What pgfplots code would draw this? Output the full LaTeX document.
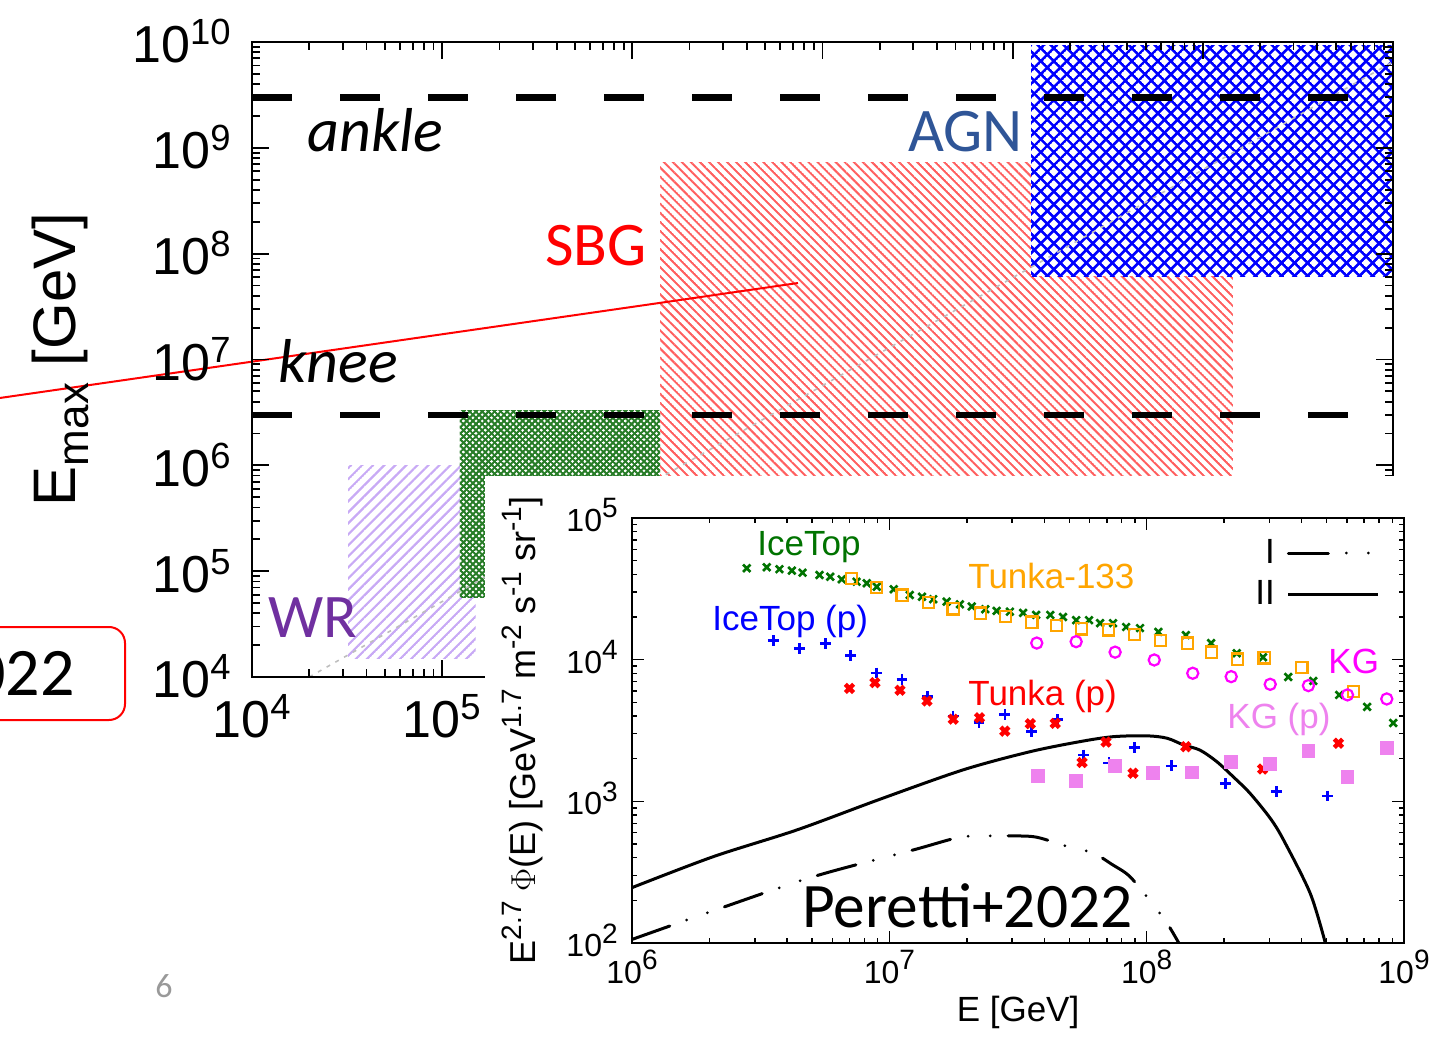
\documentclass[border=0pt]{standalone}
\usepackage{pgfplots}
\pgfplotsset{compat=1.18}
\usepackage{fontspec}
\setmainfont{Liberation Sans}
\newfontfamily\calibri{Carlito}
\usetikzlibrary{patterns.meta}

\definecolor{icegreen}{RGB}{0,115,0}
\definecolor{tunkaorange}{RGB}{255,165,0}
\definecolor{kgmag}{RGB}{255,0,255}
\definecolor{kgviolet}{RGB}{238,130,238}
\definecolor{agnblue}{RGB}{47,85,151}
\definecolor{wrpurple}{RGB}{112,48,160}
\definecolor{hatchpurple}{RGB}{200,170,245}
\definecolor{hatchred}{RGB}{255,95,95}
\definecolor{hatchgreen}{RGB}{40,125,40}
\definecolor{dotgray}{RGB}{190,190,190}

% parallel-line hatch with adjustable spacing, angle and width
\tikzdeclarepattern{
  name=hatch,
  parameters={
    \pgfkeysvalueof{/pgf/pattern keys/size},
    \pgfkeysvalueof{/pgf/pattern keys/angle},
    \pgfkeysvalueof{/pgf/pattern keys/line width},
  },
  bounding box={
    (0,-0.5*\pgfkeysvalueof{/pgf/pattern keys/line width}) and
    (\pgfkeysvalueof{/pgf/pattern keys/size},0.5*\pgfkeysvalueof{/pgf/pattern keys/line width})},
  tile size={(\pgfkeysvalueof{/pgf/pattern keys/size},\pgfkeysvalueof{/pgf/pattern keys/size})},
  tile transformation={rotate=\pgfkeysvalueof{/pgf/pattern keys/angle}},
  defaults={size/.initial=5pt, angle/.initial=45, line width/.initial=.4pt},
  code={\draw[line width=\pgfkeysvalueof{/pgf/pattern keys/line width}]
        (0,0) -- (\pgfkeysvalueof{/pgf/pattern keys/size},0);},
}

\newcommand\pa[1]{10\textsuperscript{#1}}
\newcommand\pb[1]{10\raisebox{6.8pt}{\fontsize{14}{14}\selectfont #1}}
\newcommand\su[1]{\raisebox{6.8pt}{\fontsize{14}{14}\selectfont #1}}

\begin{document}
\begin{tikzpicture}
\useasboundingbox (0,0) rectangle (717pt,-518.5pt);

% ---------------- E_max versus source size ----------------
\begin{axis}[
  at={(126pt,-338.5pt)}, anchor=south west,
  scale only axis, width=570.5pt, height=317.5pt,
  xmode=log, ymode=log, xmin=1e4, xmax=1e10, ymin=1e4, ymax=1e10,
  axis on top, clip=false,
  tick align=inside, major tick length=8.3pt, minor tick length=4pt,
  axis line style={line width=1pt}, tick style={line width=0.9pt, black},
  xtick={1e4,1e5,1e6,1e7,1e8,1e9,1e10},
  xticklabels={\pa{4},\pa{5},\pa{6},\pa{7},\pa{8},\pa{9},\pa{10}},
  ytick={1e4,1e5,1e6,1e7,1e8,1e9,1e10},
  yticklabels={\pa{4},\pa{5},\pa{6},\pa{7},\pa{8},\pa{9},\pa{10}},
  minor xtick={2e4,3e4,4e4,5e4,6e4,7e4,8e4,9e4,2e5,3e5,4e5,5e5,6e5,7e5,8e5,9e5,
    2e6,3e6,4e6,5e6,6e6,7e6,8e6,9e6,2e7,3e7,4e7,5e7,6e7,7e7,8e7,9e7,
    2e8,3e8,4e8,5e8,6e8,7e8,8e8,9e8,2e9,3e9,4e9,5e9,6e9,7e9,8e9,9e9},
  minor ytick={2e4,3e4,4e4,5e4,6e4,7e4,8e4,9e4,2e5,3e5,4e5,5e5,6e5,7e5,8e5,9e5,
    2e6,3e6,4e6,5e6,6e6,7e6,8e6,9e6,2e7,3e7,4e7,5e7,6e7,7e7,8e7,9e7,
    2e8,3e8,4e8,5e8,6e8,7e8,8e8,9e8,2e9,3e9,4e9,5e9,6e9,7e9,8e9,9e9},
  tick label style={font=\fontsize{26}{28}\selectfont},
  xticklabel style={anchor=base, yshift=-30.5pt, inner sep=0pt},
  yticklabel style={anchor=base east, xshift=-10pt, yshift=-10.5pt, inner sep=0pt},
  ylabel={E\raisebox{-6.5pt}{\fontsize{22}{22}\selectfont max} [GeV]},
  ylabel style={at={(axis description cs:-0.155,0.5)}, anchor=base,
                font=\fontsize{30}{32}\selectfont},
]
% WR
\addplot[draw=none, pattern={hatch[size=3.9pt,angle=45,line width=1.1pt]}, pattern color=hatchpurple]
  coordinates {(3.2e4,1.5e4) (1.5e5,1.5e4) (1.5e5,1e6) (3.2e4,1e6)};
% SNR (green)
\addplot[draw=none, fill=white] coordinates {(1.24e5,5.7e4) (1.4e6,5.7e4) (1.4e6,3.3e6) (1.24e5,3.3e6)};
\addplot[draw=none, pattern={hatch[size=2.2pt,angle=45,line width=1pt]}, pattern color=hatchgreen]
  coordinates {(1.24e5,5.7e4) (1.4e6,5.7e4) (1.4e6,3.3e6) (1.24e5,3.3e6)};
\addplot[draw=none, pattern={hatch[size=2.2pt,angle=-45,line width=1pt]}, pattern color=hatchgreen]
  coordinates {(1.24e5,5.7e4) (1.4e6,5.7e4) (1.4e6,3.3e6) (1.24e5,3.3e6)};
% SBG
\addplot[draw=none, pattern={hatch[size=3.2pt,angle=-45,line width=1pt]}, pattern color=hatchred]
  coordinates {(1.4e6,1e5) (1.44e9,1e5) (1.44e9,7.2e8) (1.4e6,7.2e8)};
% AGN
\addplot[draw=none, fill=white] coordinates {(1.25e8,6.15e7) (1e10,6.15e7) (1e10,9.3e9) (1.25e8,9.3e9)};
\addplot[draw=none, pattern={hatch[size=4.6pt,angle=45,line width=1.3pt]}, pattern color=blue]
  coordinates {(1.25e8,6.15e7) (1e10,6.15e7) (1e10,9.3e9) (1.25e8,9.3e9)};
\addplot[draw=none, pattern={hatch[size=4.6pt,angle=-45,line width=1.3pt]}, pattern color=blue]
  coordinates {(1.25e8,6.15e7) (1e10,6.15e7) (1e10,9.3e9) (1.25e8,9.3e9)};
% Hillas-like diagonal
\addplot[dotgray, line width=0.8pt, dash pattern=on 2pt off 3pt] coordinates {(2e4,1e4) (1e10,6.5e9)};
% knee and ankle
\addplot[black, line width=3.3pt, dash pattern=on 20pt off 24pt] coordinates {(1e4,3e9) (5.8e9,3e9)};
\addplot[black, line width=3.3pt, dash pattern=on 20pt off 24pt] coordinates {(1e4,3e6) (5.8e9,3e6)};
% pointer
\addplot[red, line width=1pt] coordinates {(473,4.33e6) (7.43e6,5.28e7)};
\end{axis}

% panel behind the spectrum
\fill[white] (242.5pt,-238pt) rectangle (717pt,-518.5pt);

% ---------------- all-particle and proton spectra ----------------
\begin{axis}[
  at={(316pt,-471.5pt)}, anchor=south west,
  scale only axis, width=386pt, height=212.5pt,
  xmode=log, ymode=log, xmin=1e6, xmax=1e9, ymin=1e2, ymax=1e5,
  tick align=inside, major tick length=6pt, minor tick length=2.5pt,
  axis line style={line width=0.75pt}, tick style={line width=0.7pt, black},
  xtick={1e6,1e7,1e8,1e9}, xticklabels={\pb{6},\pb{7},\pb{8},\pb{9}},
  ytick={1e2,1e3,1e4,1e5}, yticklabels={\pb{2},\pb{3},\pb{4},\pb{5}},
  minor xtick={2e6,3e6,4e6,5e6,6e6,7e6,8e6,9e6,2e7,3e7,4e7,5e7,6e7,7e7,8e7,9e7,
    2e8,3e8,4e8,5e8,6e8,7e8,8e8,9e8},
  minor ytick={2e2,3e2,4e2,5e2,6e2,7e2,8e2,9e2,2e3,3e3,4e3,5e3,6e3,7e3,8e3,9e3,
    2e4,3e4,4e4,5e4,6e4,7e4,8e4,9e4},
  tick label style={font=\fontsize{16}{18}\selectfont},
  xticklabel style={anchor=base, yshift=-20pt, inner sep=0pt},
  yticklabel style={anchor=base east, xshift=-7pt, yshift=-6.8pt, inner sep=0pt},
  xlabel={E [GeV]},
  xlabel style={at={(axis description cs:0.5,-0.185)}, anchor=base, font=\fontsize{17.5}{20}\selectfont},
  ylabel={E\su{2.7} $\Phi$(E) [GeV\su{1.7} m\su{-2} s\su{-1} sr\su{-1}]},
  ylabel style={at={(axis description cs:-0.1256,0.5)}, anchor=base, font=\fontsize{18}{20}\selectfont},
  legend style={draw=none, fill=none, at={(axis description cs:0.977,0.969)}, anchor=north east,
                font=\fontsize{17.5}{20}\selectfont, row sep=3pt, column sep=4pt},
  legend plot pos=right, legend cell align=right,
  legend image code/.code={\draw[#1] (0pt,0pt) -- (45pt,0pt);},
]
% model I
\addplot[black, line width=1.5pt, line cap=round, dash pattern=on 20pt off 9pt on 0pt off 11pt on 0pt off 9pt, smooth]
  coordinates {(1e6,106) (2.07e6,169) (5.07e6,294) (1.24e7,454) (1.88e7,558) (2.46e7,570) (3.02e7,570)
   (3.74e7,558) (5.04e7,474) (6.17e7,434) (7.31e7,360) (8.61e7,294) (1.06e8,186) (1.20e8,138) (1.33e8,100.7)};
\addlegendentry{I}
% model II
\addplot[black, line width=1.5pt, smooth]
  coordinates {(1e6,246) (2.07e6,407) (4.37e6,628) (9.20e6,1035) (1.94e7,1670) (3.52e7,2240) (5.51e7,2640)
   (7.41e7,2860) (1.0e8,2900) (1.20e8,2790) (1.39e8,2500) (1.61e8,2300) (1.87e8,1910) (2.17e8,1490)
   (2.52e8,1140) (3.02e8,760) (3.40e8,535) (4.32e8,224) (4.94e8,100.7)};
\addlegendentry{II}
% IceTop
\addplot[forget plot, only marks, mark=x, mark size=2.6pt, icegreen, line width=1.3pt]
  coordinates {(2.79e6,44200) (3.34e6,44900) (3.74e6,43500) (4.18e6,42500) (4.60e6,41100) (5.35e6,39600)
   (5.89e6,38500) (6.53e6,36900) (7.46e6,35500) (8.17e6,34600) (8.93e6,32700) (1.04e7,31400) (1.20e7,28600)
   (1.34e7,27800) (1.48e7,26700) (1.67e7,25700) (1.88e7,24600) (2.09e7,23700) (2.36e7,22700) (2.61e7,22100)
   (2.94e7,21800) (3.31e7,21400) (3.72e7,20700) (4.22e7,20700) (4.73e7,20000) (5.32e7,19000) (5.97e7,19000)
   (6.59e7,18100) (7.40e7,18100) (8.32e7,17000) (9.42e7,16700) (1.11e8,15700) (1.42e8,14900) (1.78e8,13100)
   (2.24e8,11100) (2.83e8,10400) (3.55e8,7550) (4.44e8,7080) (5.60e8,5640) (7.19e8,4640) (9.08e8,3570)};
% Tunka-133
\addplot[forget plot, only marks, mark=square, mark size=2.8pt, tunkaorange, line width=1.1pt]
  coordinates {(7.14e6,37500) (8.93e6,32200) (1.12e7,28600) (1.42e7,25400) (1.77e7,22800) (2.26e7,21300)
   (2.82e7,20200) (3.58e7,18400) (4.46e7,17400) (5.59e7,16500) (7.10e7,16200) (8.95e7,15100) (1.13e8,13600)
   (1.44e8,13100) (1.79e8,11300) (2.25e8,10100) (2.86e8,10300) (4.01e8,8790) (6.35e8,5940)};
% IceTop (p)
\addplot[forget plot, only marks, mark=+, mark size=2.7pt, blue, line width=1.3pt]
  coordinates {(3.54e6,13600) (4.47e6,12000) (5.64e6,13000) (7.08e6,10700) (8.89e6,8050) (1.12e7,7270)
   (1.41e7,5480) (1.77e7,4000) (2.23e7,3590) (2.81e7,4120) (3.57e7,3110) (4.51e7,3780) (5.68e7,2120)
   (7.13e7,1870) (8.95e7,2390) (1.25e8,1780) (2.02e8,1340) (3.19e8,1170) (5.05e8,1090)};
% Tunka (p)
\addplot[forget plot, only marks, mark=x, mark size=2.9pt, red, line width=2.2pt]
  coordinates {(7.00e6,6270) (8.79e6,6880) (1.10e7,6080) (1.40e7,5110) (1.77e7,3800) (2.24e7,3890)
   (2.81e7,3130) (3.53e7,3530) (4.41e7,3550) (5.61e7,1880) (6.95e7,2620) (8.85e7,1580) (1.42e8,2430)
   (2.82e8,1690) (5.56e8,2570)};
% KASCADE-Grande
\addplot[forget plot, only marks, mark=o, mark size=2.8pt, kgmag, line width=1.1pt]
  coordinates {(3.74e7,13100) (5.32e7,13400) (7.54e7,11300) (1.07e8,9950) (1.51e8,8020) (2.13e8,7590)
   (3.02e8,6700) (4.25e8,6560) (6.03e8,5640) (8.57e8,5280)};
% KASCADE-Grande (p)
\addplot[forget plot, only marks, mark=square*, mark size=3.2pt, kgviolet, mark options={draw=kgviolet, fill=kgviolet}]
  coordinates {(3.79e7,1510) (5.32e7,1390) (7.54e7,1790) (1.06e8,1580) (1.50e8,1600) (2.13e8,1900)
   (3.02e8,1830) (4.25e8,2280) (6.03e8,1490) (8.57e8,2390)};
\end{axis}

% labels of the upper panel
\begin{scope}[every node/.style={inner sep=0pt}]
\node[anchor=base west, font=\calibri\itshape\fontsize{31}{33}\selectfont] at (153.5pt,-76pt) {ankle};
\node[anchor=base west, font=\calibri\itshape\fontsize{31}{33}\selectfont] at (139pt,-191.5pt) {knee};
\node[anchor=base east, text=red, font=\calibri\fontsize{31}{33}\selectfont] at (323.5pt,-133pt) {SBG};
\node[anchor=base west, text=agnblue, font=\calibri\fontsize{31}{33}\selectfont] at (454pt,-76pt) {AGN};
\node[anchor=base west, text=wrpurple, font=\calibri\fontsize{31}{33}\selectfont] at (134pt,-318.5pt) {WR};
% labels of the spectrum panel
\node[anchor=base west, text=icegreen, font=\fontsize{17.5}{20}\selectfont] at (378.5pt,-277.5pt) {IceTop};
\node[anchor=base west, text=blue, font=\fontsize{17.5}{20}\selectfont] at (356pt,-315pt) {IceTop (p)};
\node[anchor=base west, text=tunkaorange, font=\fontsize{17.5}{20}\selectfont] at (484pt,-294pt) {Tunka-133};
\node[anchor=base west, text=red, font=\fontsize{17.5}{20}\selectfont] at (484pt,-352.5pt) {Tunka (p)};
\node[anchor=base west, text=kgmag, font=\fontsize{17.5}{20}\selectfont] at (664pt,-336.5pt) {KG};
\node[anchor=base west, text=kgviolet, font=\fontsize{17.5}{20}\selectfont] at (613.5pt,-364pt) {KG (p)};
\node[anchor=base west, font=\calibri\fontsize{31.7}{34}\selectfont] at (401pt,-463.5pt) {Peretti+2022};
% reference box and page number
\draw[red, line width=1pt, rounded corners=8pt] (-20pt,-313.5pt) rectangle (62.5pt,-360pt);
\node[anchor=base east, font=\calibri\fontsize{34}{36}\selectfont] at (37.5pt,-347.5pt) {Peretti+2022};
\node[anchor=base west, text=black!40, font=\calibri\fontsize{17}{19}\selectfont] at (77.5pt,-498.5pt) {6};
\end{scope}
\end{tikzpicture}
\end{document}
